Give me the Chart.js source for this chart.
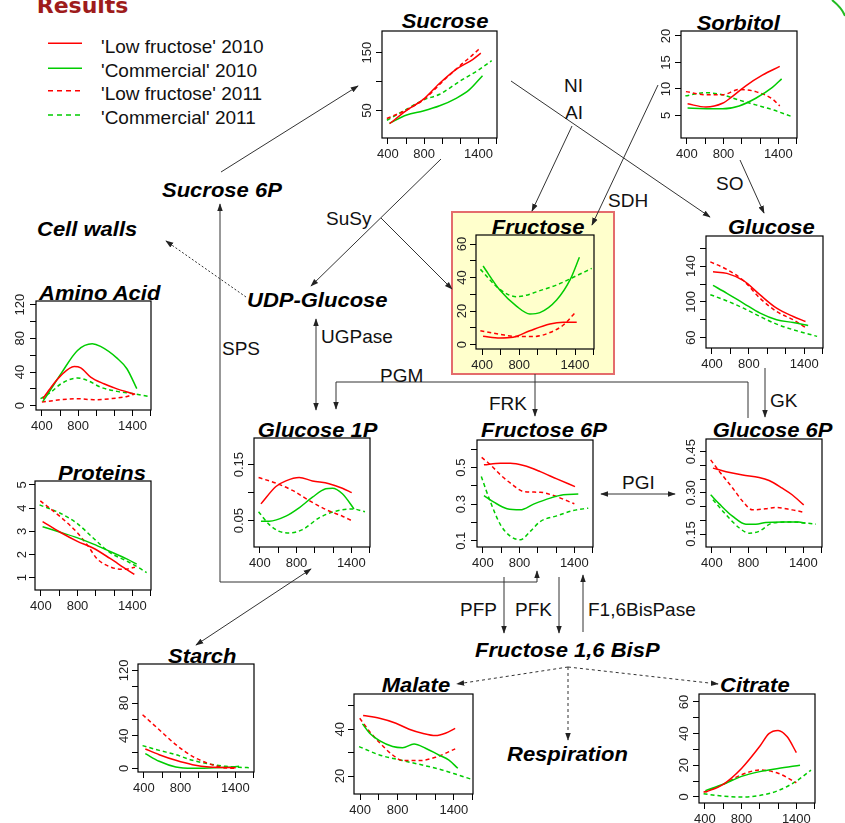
<!DOCTYPE html>
<html><head><meta charset="utf-8">
<script src="https://cdn.jsdelivr.net/npm/chart.js@4.4.0/dist/chart.umd.min.js"></script>
<style>
html,body{margin:0;padding:0;background:#fff;}
#page{position:relative;width:845px;height:823px;overflow:hidden;}
#page canvas{position:absolute;}
#bg{position:absolute;left:0;top:0;}
</style></head><body><div id="page">
<svg id="bg" width="845" height="823" xmlns="http://www.w3.org/2000/svg" font-family="Liberation Sans, Arial, sans-serif">
<defs>
<marker id="ah" viewBox="0 0 10 10" refX="9" refY="5" markerWidth="8" markerHeight="8" markerUnits="userSpaceOnUse" orient="auto-start-reverse"><path d="M0,1.5 L10,5 L0,8.5 z" fill="#222"/></marker>
</defs>
<rect x="452" y="212" width="162" height="162" fill="#FFFFCC" stroke="#E46C6C" stroke-width="2"/>
<path d="M832,0 Q842,8 845,16" stroke="#22bb22" stroke-width="2" fill="none"/>
<g stroke="#333" stroke-width="1" fill="none">
<line x1="221" y1="172" x2="358" y2="86" marker-end="url(#ah)"/>
<line x1="511" y1="81" x2="710" y2="217" marker-end="url(#ah)"/>
<line x1="572" y1="126" x2="532" y2="211" marker-end="url(#ah)"/>
<line x1="658" y1="85" x2="592" y2="225" marker-end="url(#ah)"/>
<line x1="740" y1="160" x2="764" y2="213" marker-end="url(#ah)"/>
<line x1="441" y1="159" x2="311" y2="286" marker-end="url(#ah)"/>
<line x1="381" y1="218" x2="452" y2="289" marker-end="url(#ah)"/>
<line x1="246" y1="297" x2="166" y2="241" stroke-dasharray="2,2" marker-end="url(#ah)"/>
<polyline points="537,571 537,582 220,582 220,204" marker-start="url(#ah)" marker-end="url(#ah)"/>
<line x1="316" y1="319" x2="316" y2="410" marker-start="url(#ah)" marker-end="url(#ah)"/>
<polyline points="336,409 336,382 748,382 748,418" marker-start="url(#ah)"/>
<line x1="535" y1="374" x2="535" y2="416" marker-end="url(#ah)"/>
<line x1="765" y1="368" x2="765" y2="417" marker-end="url(#ah)"/>
<line x1="601" y1="494" x2="675" y2="494" marker-start="url(#ah)" marker-end="url(#ah)"/>
<line x1="311" y1="569" x2="196" y2="645" marker-start="url(#ah)" marker-end="url(#ah)"/>
<line x1="504" y1="577" x2="504" y2="633" marker-end="url(#ah)"/>
<line x1="559" y1="577" x2="559" y2="633" marker-end="url(#ah)"/>
<line x1="583" y1="632" x2="583" y2="575" marker-end="url(#ah)"/>
<line x1="568" y1="667" x2="457" y2="684" stroke-dasharray="3,3" marker-end="url(#ah)"/>
<line x1="568" y1="667" x2="718" y2="684" stroke-dasharray="3,3" marker-end="url(#ah)"/>
<line x1="568" y1="667" x2="568" y2="740" stroke-dasharray="3,3" marker-end="url(#ah)"/>
</g>
<text x="36.7" y="12.7" font-family="DejaVu Sans" font-weight="bold" font-size="22" fill="#9E1C1C">Results</text>
<g stroke-width="1.6">
<line x1="48" y1="43.3" x2="82" y2="43.3" stroke="#ff0000"/>
<line x1="48" y1="68.3" x2="82" y2="68.3" stroke="#00cc00"/>
<line x1="48" y1="90.7" x2="82" y2="90.7" stroke="#ff0000" stroke-dasharray="5,4"/>
<line x1="48" y1="115" x2="82" y2="115" stroke="#00cc00" stroke-dasharray="5,4"/>
</g>
<g font-size="19" fill="#111">
<text x="101" y="53.3">'Low fructose' 2010</text>
<text x="101" y="76.7">'Commercial' 2010</text>
<text x="101" y="100">'Low fructose' 2011</text>
<text x="101" y="124">'Commercial' 2011</text>
</g>
<g font-size="20" font-weight="bold" font-style="italic" fill="#000">
<text transform="translate(401.7,28) scale(1.1,1)">Sucrose</text>
<text transform="translate(696.7,30) scale(1.1,1)">Sorbitol</text>
<text transform="translate(491.7,234) scale(1.1,1)">Fructose</text>
<text transform="translate(728,234) scale(1.1,1)">Glucose</text>
<text transform="translate(39,300) scale(1.1,1)">Amino Acid</text>
<text transform="translate(58,480) scale(1.1,1)">Proteins</text>
<text transform="translate(257.7,436.7) scale(1.1,1)">Glucose 1P</text>
<text transform="translate(481,436.7) scale(1.1,1)">Fructose 6P</text>
<text transform="translate(712.7,437.3) scale(1.1,1)">Glucose 6P</text>
<text transform="translate(168,662.7) scale(1.1,1)">Starch</text>
<text transform="translate(381.7,691.7) scale(1.1,1)">Malate</text>
<text transform="translate(720,691.7) scale(1.1,1)">Citrate</text>
<text transform="translate(162,197) scale(1.1,1)">Sucrose 6P</text>
<text transform="translate(37,236) scale(1.1,1)">Cell walls</text>
<text transform="translate(247,307) scale(1.1,1)">UDP-Glucose</text>
<text transform="translate(475,657) scale(1.1,1)">Fructose 1,6 BisP</text>
<text transform="translate(507,761) scale(1.1,1)">Respiration</text>
</g>
<g font-size="19" fill="#111">
<text x="564" y="92">NI</text>
<text x="565" y="119">AI</text>
<text x="608" y="207">SDH</text>
<text x="716" y="190">SO</text>
<text x="326" y="225">SuSy</text>
<text x="321" y="343">UGPase</text>
<text x="222" y="355">SPS</text>
<text x="380" y="382">PGM</text>
<text x="489" y="410">FRK</text>
<text x="770" y="407">GK</text>
<text x="622" y="489">PGI</text>
<text x="460" y="616">PFP</text>
<text x="515" y="616">PFK</text>
<text x="588" y="616">F1,6BisPase</text>
</g>
</svg>
</div>
<script>
// ---- shared axis definitions ----
const xTickValues = [400, 600, 800, 1000, 1200, 1400, 1600];
const xTickLabels = ['400', '', '800', '', '', '1400', ''];
const seriesNames = ["'Low fructose' 2010", "'Commercial' 2010", "'Low fructose' 2011", "'Commercial' 2011"];

// ---- Sucrose ----
const sucrose_LF2010 = [[418,27],[607,50],[789,69],[971,97],[1153,121],[1335,138],[1425,149]];
const sucrose_C2010  = [[418,28],[607,42],[789,49],[971,58],[1153,71],[1300,86],[1444,110]];
const sucrose_LF2011 = [[389,36],[607,51],[789,68],[1044,106],[1200,128],[1335,146],[1425,159]];
const sucrose_C2011  = [[389,33],[607,52],[789,68],[971,78],[1189,100],[1400,120],[1545,136]];
const sucrose_yTicks = [50, 100, 150];
const sucrose_yLabels = ['50', '150'];

// ---- Sorbitol ----
const sorbitol_LF2010 = [[407,7.2],[607,6.6],[789,7.3],[898,8.6],[1044,10.6],[1225,12.6],[1415,14.25]];
const sorbitol_C2010  = [[407,6.4],[789,6.25],[971,6.8],[1153,8.25],[1335,10.3],[1436,11.9]];
const sorbitol_LF2011 = [[389,9.5],[607,8.9],[789,8.9],[971,9.9],[1153,9.5],[1335,8.1],[1415,6.8]];
const sorbitol_C2011  = [[382,8.7],[607,9.3],[789,8.9],[971,7.9],[1153,7.0],[1335,6.1],[1545,4.8]];
const sorbitol_yTicks = [5, 10, 15, 20];
const sorbitol_yLabels = ['5', '10', '15', '20'];

// ---- Fructose ----
const fructose_LF2010 = [[411,5],[591,4],[734,4.4],[914,8.3],[1130,12.3],[1274,13.3],[1418,13.3]];
const fructose_C2010  = [[411,46.9],[591,32.6],[770,23],[914,18.3],[1022,19.1],[1202,26.6],[1346,38.6],[1447,52.1]];
const fructose_LF2011 = [[382,8.3],[591,6.2],[770,4.8],[950,4.8],[1130,7.2],[1274,11.7],[1411,19.7]];
const fructose_C2011  = [[382,44.9],[591,33],[770,28.6],[842,29],[1022,32.2],[1202,35.6],[1382,40.2],[1580,45.5]];
const fructose_yTicks = [0, 10, 20, 30, 40, 50, 60];
const fructose_yLabels = ['0', '20', '40', '60'];

// ---- Glucose ----
const glucose_LF2010 = [[411,133.7],[562,131.9],[742,123.7],[922,107.8],[1101,93],[1281,83.7],[1414,78.1]];
const glucose_C2010  = [[411,118.5],[562,109.6],[742,98.5],[922,87.4],[1101,80],[1281,77],[1443,73.7]];
const glucose_LF2011 = [[382,144.8],[562,136.3],[742,123.7],[922,104],[1101,89.3],[1281,80],[1425,70.7]];
const glucose_C2011  = [[382,108.1],[562,101.1],[742,93],[922,83.7],[1101,75.2],[1281,68.9],[1540,61.5]];
const glucose_yTicks = [60, 80, 100, 120, 140, 160];
const glucose_yLabels = ['60', '100', '140'];

// ---- Amino Acid ----
const amino_LF2010 = [[411,8.3],[502,22],[611,36],[756,46.6],[829,45],[938,34],[1084,26],[1229,20],[1411,14.2]];
const amino_C2010  = [[411,5.1],[502,20],[611,38],[793,65.6],[956,73.5],[1047,70.4],[1229,56.5],[1338,43.9],[1447,20.2]];
const amino_LF2011 = [[400,4.3],[611,7.1],[793,8.3],[975,7.1],[1156,8.3],[1338,11],[1429,14.2]];
const amino_C2011  = [[385,8.3],[502,16.2],[611,26],[793,32.8],[902,30],[1047,22],[1229,17],[1411,14.2],[1575,11]];
const amino_yTicks = [0, 20, 40, 60, 80, 100, 120];
const amino_yLabels = ['0', '40', '80', '120'];

// ---- Proteins ----
const proteins_LF2010 = [[418,3.42],[611,2.96],[793,2.58],[975,2.27],[1156,1.83],[1302,1.45],[1422,1.14]];
const proteins_C2010  = [[418,3.2],[611,2.96],[793,2.73],[975,2.45],[1156,2.13],[1338,1.81],[1447,1.59]];
const proteins_LF2011 = [[393,4.31],[611,3.63],[793,2.96],[920,2.34],[1011,1.83],[1156,1.47],[1302,1.36],[1429,1.45]];
const proteins_C2011  = [[385,4.14],[611,3.78],[793,3.35],[975,2.7],[1156,2.08],[1338,1.72],[1484,1.4],[1556,1.22]];
const proteins_yTicks = [1, 2, 3, 4, 5];
const proteins_yLabels = ['1', '2', '3', '4', '5'];

// ---- Glucose 1P ----
const g1p_LF2010 = [[411,0.080],[575,0.111],[684,0.121],[829,0.127],[975,0.121],[1156,0.116],[1302,0.108],[1404,0.100]];
const g1p_C2010  = [[411,0.049],[502,0.049],[684,0.058],[829,0.073],[975,0.092],[1120,0.107],[1193,0.108],[1302,0.098],[1429,0.071]];
const g1p_LF2011 = [[385,0.127],[575,0.117],[756,0.104],[938,0.086],[1120,0.070],[1302,0.058],[1404,0.050]];
const g1p_C2011  = [[385,0.066],[502,0.043],[611,0.031],[720,0.028],[865,0.034],[1047,0.055],[1229,0.067],[1411,0.071],[1549,0.066]];
const g1p_yTicks = [0.05, 0.10, 0.15];
const g1p_yLabels = ['0.05', '0.15'];

// ---- Fructose 6P ----
const f6p_LF2010 = [[411,0.515],[592,0.524],[701,0.524],[846,0.511],[1027,0.478],[1208,0.438],[1407,0.396]];
const f6p_C2010  = [[411,0.347],[520,0.311],[664,0.275],[809,0.269],[954,0.300],[1136,0.333],[1280,0.351],[1443,0.355]];
const f6p_LF2011 = [[386,0.556],[483,0.515],[592,0.460],[701,0.415],[846,0.369],[1027,0.365],[1172,0.347],[1400,0.302]];
const f6p_C2011  = [[382,0.451],[483,0.311],[592,0.187],[701,0.124],[809,0.105],[918,0.151],[1027,0.205],[1208,0.236],[1389,0.265],[1552,0.278]];
const f6p_yTicks = [0.1, 0.2, 0.3, 0.4, 0.5, 0.6];
const f6p_yLabels = ['0.1', '0.3', '0.5'];

// ---- Glucose 6P ----
const g6p_LF2010 = [[411,0.390],[555,0.377],[736,0.365],[916,0.356],[1025,0.345],[1169,0.317],[1277,0.293],[1404,0.256]];
const g6p_C2010  = [[386,0.293],[483,0.259],[628,0.214],[772,0.186],[880,0.186],[989,0.192],[1169,0.194],[1350,0.194],[1422,0.189]];
const g6p_LF2011 = [[386,0.420],[483,0.377],[628,0.317],[736,0.269],[844,0.238],[989,0.242],[1097,0.247],[1277,0.238],[1411,0.229]];
const g6p_C2011  = [[411,0.275],[555,0.220],[700,0.172],[808,0.153],[916,0.160],[1061,0.190],[1277,0.194],[1422,0.190],[1537,0.186]];
const g6p_yTicks = [0.15, 0.20, 0.25, 0.30, 0.35, 0.40, 0.45];
const g6p_yLabels = ['0.15', '0.30', '0.45'];

// ---- Starch ----
const starch_LF2010 = [[415,23.7],[567,16.7],[749,9.8],[931,4.5],[1113,1.6],[1404,0.8]];
const starch_C2010  = [[415,18],[567,8.6],[749,1.6],[931,0],[1113,0.4],[1295,1.2],[1440,2.4]];
const starch_LF2011 = [[385,65.7],[567,47.3],[749,29],[931,14.7],[1113,5.7],[1295,0.4],[1404,0]];
const starch_C2011  = [[385,27.8],[567,22],[749,16.7],[931,9.8],[1113,5.3],[1295,2.4],[1440,1.2],[1567,0.8]];
const starch_yTicks = [0, 20, 40, 60, 80, 100, 120];
const starch_yLabels = ['0', '40', '80', '120'];

// ---- Malate ----
const malate_LF2010 = [[432,45.9],[607,44.7],[782,42.6],[923,40],[1063,38.3],[1204,37.3],[1309,38.3],[1414,40.4]];
const malate_C2010  = [[425,42.3],[502,38.3],[607,35.1],[747,32.6],[853,32.1],[975,33.7],[1098,31.9],[1239,29],[1344,26.9],[1442,23.3]];
const malate_LF2011 = [[396,44.7],[502,39],[607,34.3],[747,29],[853,26.6],[1028,26.6],[1204,28],[1414,31.6]];
const malate_C2011  = [[389,32.6],[607,29],[853,26.6],[1063,24.7],[1274,22.6],[1449,20.4],[1589,18.6]];
const malate_yTicks = [20, 30, 40, 50];
const malate_yLabels = ['20', '40'];

// ---- Citrate ----
const citrate_LF2010 = [[405,3],[600,8],[800,18],[1000,32],[1100,40],[1200,42],[1300,38],[1400,28]];
const citrate_C2010  = [[405,4],[600,8],[800,13],[1000,16],[1200,18],[1440,20]];
const citrate_LF2011 = [[385,3],[600,8],[800,14],[1000,17],[1200,15],[1400,9]];
const citrate_C2011  = [[385,2],[600,0.5],[800,0],[1000,1],[1200,4],[1400,10],[1560,17]];
const citrate_yTicks = [0, 10, 20, 30, 40, 50, 60];
const citrate_yLabels = ['0', '20', '40', '60'];

const seriesColors = ['#ff0000', '#00cc00', '#ff0000', '#00cc00'];
const seriesDash = [[], [], [4, 3], [4, 3]];

Chart.defaults.font.family = 'Liberation Sans';

const rPlugin = {
  id: 'rbox',
  afterDraw(chart, args, opts) {
    const ctx = chart.ctx, a = chart.chartArea, ys = chart.scales.y;
    ctx.save();
    ctx.strokeStyle = '#000'; ctx.lineWidth = 1.2;
    ctx.strokeRect(a.left, a.top, a.right - a.left, a.bottom - a.top);
    ctx.fillStyle = '#222'; ctx.font = '13px "Liberation Sans"';
    ctx.textAlign = 'center'; ctx.textBaseline = 'alphabetic';
    for (const s of opts.labels) {
      const y = ys.getPixelForValue(parseFloat(s));
      ctx.save(); ctx.translate(a.left - opts.off, y); ctx.rotate(-Math.PI / 2);
      ctx.fillText(s, 0, 0); ctx.restore();
    }
    ctx.restore();
  }
};

const page = document.getElementById('page');
function makeChart(box, yRange, yTicks, yLabels, series, off) {
  const padL = 34, padB = 28, padT = 16, padR = 4;
  const c = document.createElement('canvas');
  c.width = box[2] - box[0] + padL + padR;
  c.height = box[3] - box[1] + padT + padB;
  c.style.left = (box[0] - padL) + 'px';
  c.style.top = (box[1] - padT) + 'px';
  page.appendChild(c);
  new Chart(c, {
    type: 'line',
    data: {
      datasets: series.map((s, i) => ({
        label: seriesNames[i],
        data: s.map(p => ({ x: p[0], y: p[1] })),
        borderColor: seriesColors[i], borderDash: seriesDash[i], borderWidth: 1.5,
        pointRadius: 0, fill: false, tension: 0.4, cubicInterpolationMode: 'monotone'
      }))
    },
    options: {
      responsive: false, animation: false, events: [],
      layout: { padding: { top: padT, right: padR, left: 0, bottom: 0 } },
      plugins: { legend: { display: false }, tooltip: { enabled: false }, rbox: { labels: yLabels, off: off } },
      scales: {
        x: {
          type: 'linear', min: 335, max: 1604,
          afterBuildTicks: s => { s.ticks = xTickValues.map(v => ({ value: v })); },
          afterFit: s => { s.height = padB; },
          grid: { drawOnChartArea: false, drawTicks: true, tickLength: 6, color: '#000', lineWidth: 1 },
          border: { display: false },
          ticks: { autoSkip: false, maxRotation: 0, minRotation: 0, padding: 3, color: '#222',
            font: { size: 13 }, callback: v => { const i = xTickValues.indexOf(v); return i >= 0 ? xTickLabels[i] : ''; } }
        },
        y: {
          type: 'linear', min: yRange[0], max: yRange[1],
          afterBuildTicks: s => { s.ticks = yTicks.map(v => ({ value: v })); },
          afterFit: s => { s.width = padL; },
          grid: { drawOnChartArea: false, drawTicks: true, tickLength: 6, color: '#000', lineWidth: 1 },
          border: { display: false },
          ticks: { display: false }
        }
      }
    },
    plugins: [rPlugin]
  });
}

makeChart([382,31,497,138], [2.3,187.4], sucrose_yTicks, sucrose_yLabels, [sucrose_LF2010, sucrose_C2010, sucrose_LF2011, sucrose_C2011], 11.5);
makeChart([681,31,797,138], [0.75,20.94], sorbitol_yTicks, sorbitol_yLabels, [sorbitol_LF2010, sorbitol_C2010, sorbitol_LF2011, sorbitol_C2011], 11.5);
makeChart([476,235,594,349], [-2.6,65.4], fructose_yTicks, fructose_yLabels, [fructose_LF2010, fructose_C2010, fructose_LF2011, fructose_C2011], 10);
makeChart([706,236,823,348], [48.5,173.7], glucose_yTicks, glucose_yLabels, [glucose_LF2010, glucose_C2010, glucose_LF2011, glucose_C2011], 11.5);
makeChart([36,301,151,410], [-5.1,124.3], amino_yTicks, amino_yLabels, [amino_LF2010, amino_C2010, amino_LF2011, amino_C2011], 12);
makeChart([35,481,151,590], [0.47,5.17], proteins_yTicks, proteins_yLabels, [proteins_LF2010, proteins_C2010, proteins_LF2011, proteins_C2011], 9);
makeChart([254,438,370,547], [0.003,0.1976], g1p_yTicks, g1p_yLabels, [g1p_LF2010, g1p_C2010, g1p_LF2011, g1p_C2011], 11.5);
makeChart([477,440,593,547], [0.0655,0.651], f6p_yTicks, f6p_yLabels, [f6p_LF2010, f6p_C2010, f6p_LF2011, f6p_C2011], 12);
makeChart([706,439,822,547], [0.1028,0.496], g6p_yTicks, g6p_yLabels, [g6p_LF2010, g6p_C2010, g6p_LF2011, g6p_C2011], 11);
makeChart([138,664,254,772], [-4.5,127.8], starch_yTicks, starch_yLabels, [starch_LF2010, starch_C2010, starch_LF2011, starch_C2011], 10.5);
makeChart([354,694,473,794], [12.3,55.1], malate_yTicks, malate_yLabels, [malate_LF2010, malate_C2010, malate_LF2011, malate_C2011], 10.5);
makeChart([699,694,815,803], [-3.8,65], citrate_yTicks, citrate_yLabels, [citrate_LF2010, citrate_C2010, citrate_LF2011, citrate_C2011], 11);
</script>
</body></html>
